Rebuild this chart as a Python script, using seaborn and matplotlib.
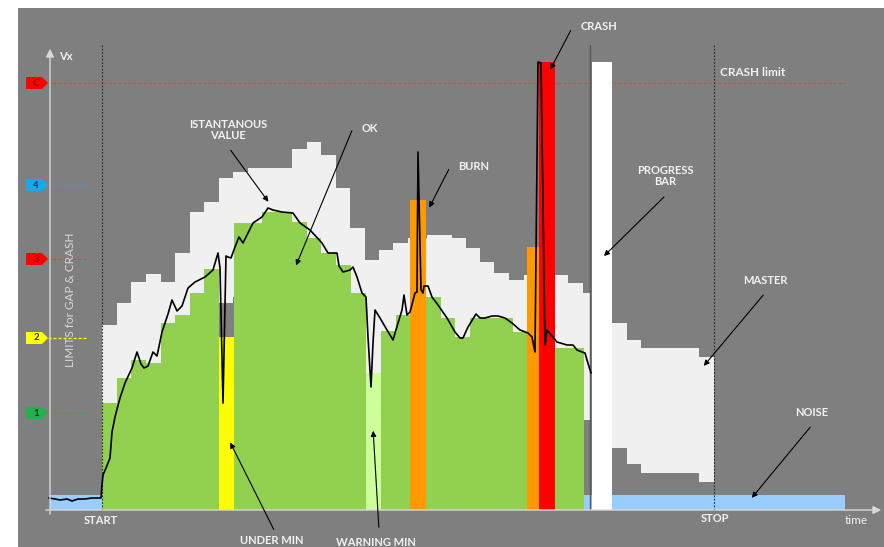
import numpy as np
import matplotlib
matplotlib.use("Agg")
import matplotlib.pyplot as plt
from matplotlib.patches import Polygon
import seaborn as sns

# --- data (x in time units, y in Vx units, both) ---

# master band (light grey): step edges, upper and lower limits
master_edges = [102, 117, 131, 146, 161, 175, 190, 204, 219, 233, 248, 292, 307, 321, 336,
                350, 365, 379, 393, 408, 427, 452, 466, 480, 494, 509, 524, 527, 539, 555,
                568, 583, 591]
master_top = [185, 207, 228, 236, 228, 257, 298, 308, 332, 338, 342, 361, 368, 355, 322,
              282, 250, 260, 267, 272, 275, 272, 262, 248, 237, 230, 235, 235, 235, 235,
              227, 217]
master_low = [60, 82, 103, 111, 103, 132, 173, 183, 207, 213, 217, 236, 243, 230, 197,
              157, 125, 135, 142, 147, 150, 147, 137, 123, 112, 105, 110, 110, 110, 110,
              102, 90]

# master band after the progress bar
master2_edges = [612, 627, 641, 699, 714]
master2_top = [187, 170, 162, 153]
master2_low = [62, 46, 37, 28]

# status bars
seg_edges = [102, 117, 131, 146, 161, 175, 190, 204, 219, 234, 248, 262, 292, 307, 321,
             336, 351, 366, 381, 396, 410, 426, 441, 455, 470, 513, 527, 539, 555, 584]
seg_value = [107, 132, 150, 147, 187, 195, 217, 241, 173, 287, 287, 298, 288, 272, 257,
             245, 217, 137, 179, 195, 310, 213, 192, 173, 192, 178, 263, 448, 162]
seg_status = ["ok", "ok", "ok", "ok", "ok", "ok", "ok", "ok", "under", "ok", "ok", "ok",
              "ok", "ok", "ok", "ok", "ok", "warning", "ok", "ok", "burn", "ok", "ok",
              "ok", "ok", "ok", "burn", "crash", "ok"]
status_colors = {"ok": "#92d050", "under": "#ffff00", "warning": "#ccff99",
                 "burn": "#ff9900", "crash": "#ff0000"}

# noise band
noise_start = [50, 584]
noise_end = [102, 845]
noise_level = 15

# progress bar
progress_x = [592, 612]
progress_top = 448
now_x = 590

# instantaneous value
line_t = [49, 55, 60, 67, 72, 78, 85, 92, 101, 102, 103, 106, 110, 112, 115, 120, 125,
          132, 137, 141, 144, 148, 153, 157, 162, 168, 172, 177, 182, 188, 195, 205, 213,
          218, 220, 223, 226, 228, 231, 235, 239, 243, 248, 253, 262, 268, 273, 282, 293,
          300, 310, 322, 328, 337, 339, 343, 350, 353, 357, 362, 366, 368, 371, 373, 375,
          380, 387, 393, 398, 402, 404, 407, 410, 415, 417, 418, 421, 423, 424, 428, 432,
          438, 447, 455, 460, 463, 468, 476, 480, 485, 492, 498, 505, 512, 520, 528, 532,
          535, 538, 541, 545, 547, 557, 567, 573, 577, 582, 585, 587, 591]
line_vx = [12, 11, 10, 11, 9, 11, 11, 12, 12, 25, 35, 42, 52, 78, 93, 112, 127,
           142, 158, 146, 142, 144, 158, 154, 178, 196, 210, 199, 204, 222, 228, 233, 240,
           257, 242, 107, 254, 253, 252, 263, 273, 267, 277, 287, 293, 302, 300, 298, 297,
           287, 280, 267, 257, 257, 244, 238, 240, 243, 233, 217, 213, 173, 123, 167, 200,
           192, 180, 170, 187, 200, 215, 195, 198, 217, 218, 358, 220, 217, 224, 224, 213,
           205, 192, 178, 172, 172, 183, 196, 192, 192, 194, 194, 192, 187, 180, 177, 173,
           158, 448, 447, 165, 180, 168, 165, 165, 160, 158, 157, 150, 137]

# limit tags on the Vx axis
tag_labels = ["C", "4", "3", "2", "1"]
tag_levels = [427, 325, 251, 172, 97]
tag_colors = ["#ff0000", "#1aa7ec", "#ff0000", "#ffff00", "#22b14c"]
tag_line_colors = ["#e8403c", "#1aa7ec", "#e8403c", "#ffff00", "#22b14c"]
tag_text_colors = ["#8b0000", "#1f3b57", "#8b0000", "#333300", "#0b4016"]
tag_line_end = [845, 88, 88, 88, 88]

start_t = 102
stop_t = 714

# --- drawing ---
sns.set_style("white")
plt.rcParams["font.family"] = ["Lato", "DejaVu Sans"]

fig = plt.figure(figsize=(8.84, 5.47), dpi=100, facecolor="white")
ax = fig.add_axes([18 / 884, 0, 866 / 884, 539 / 547])
ax.set_facecolor("#7f7f7f")
ax.set_xlim(18, 884)
ax.set_ylim(-37, 502)
ax.set_xticks([])
ax.set_yticks([])
for s in ax.spines.values():
    s.set_visible(False)

# limit lines
for lvl, col, end in zip(tag_levels, tag_line_colors, tag_line_end):
    ax.plot([48, end], [lvl, lvl], color=col, lw=0.9, ls=(0, (2.5, 1.5)), zorder=1)

# master band
def band(edges, top, low, **kw):
    edges = np.asarray(edges)
    top = np.asarray(top)
    low = np.asarray(low)
    ax.bar(edges[:-1], top - low, width=np.diff(edges), bottom=low, align="edge",
           linewidth=0, **kw)

band(master_edges, master_top, master_low, color="#f0f0f0", zorder=2)
band(master2_edges, master2_top, master2_low, color="#f0f0f0", zorder=2)

# status bars
seg_edges_a = np.asarray(seg_edges)
ax.bar(seg_edges_a[:-1], seg_value, width=np.diff(seg_edges_a), align="edge", linewidth=0,
       color=[status_colors[s] for s in seg_status], zorder=3)

# noise
for a, b in zip(noise_start, noise_end):
    ax.bar(a, noise_level, width=b - a, align="edge", color="#99ccff", linewidth=0, zorder=3)

# progress bar
ax.bar(progress_x[0], progress_top, width=progress_x[1] - progress_x[0], align="edge",
       color="white", linewidth=0, zorder=4)
ax.plot([now_x, now_x], [0, 465], color="#5a5a5a", lw=1, zorder=4)

# start / stop markers
for t in [start_t, stop_t]:
    ax.plot([t, t], [0, 465], color="#262626", lw=0.8, ls=(0, (1.5, 1.5)), zorder=5)

# instantaneous value
sns.lineplot(x=line_t, y=line_vx, sort=False, estimator=None, color="black", lw=1.2,
             ax=ax, zorder=6)

# axes with arrows
ax.annotate("", xy=(50, 464), xytext=(50, -7),
            arrowprops=dict(arrowstyle="-|>", color="#d9d9d9", lw=1, mutation_scale=12),
            zorder=7)
ax.annotate("", xy=(884, 0), xytext=(43, 0),
            arrowprops=dict(arrowstyle="-|>", color="#d9d9d9", lw=1, mutation_scale=12),
            zorder=7)

# tags
for lab, lvl, col, tcol in zip(tag_labels, tag_levels, tag_colors, tag_text_colors):
    poly = Polygon([(26, lvl - 6), (42, lvl - 6), (48, lvl), (42, lvl + 6),
                    (26, lvl + 6)], closed=True, facecolor=col, edgecolor="none", zorder=8)
    ax.add_patch(poly)
    ax.text(36, lvl, lab, color=tcol, fontsize=7, fontweight="bold",
            ha="center", va="center", zorder=9)

txt = dict(color="#f2f2f2", fontsize=8, fontweight="bold", ha="center", va="center",
           zorder=9)
ax.text(66, 453, "Vx", **txt)
ax.text(70, 210, "LIMITS for GAP & CRASH", rotation=90, color="#d9d9d9", fontsize=8.5,
        ha="center", va="center", zorder=9)
ax.text(101, -10, "START", **txt)
ax.text(715, -8, "STOP", **txt)
ax.text(856, -11, "time", color="#f2f2f2", fontsize=8.5, ha="center", va="center", zorder=9)

arrow = dict(arrowstyle="-|>", color="black", lw=0.8, mutation_scale=8)
notes = [
    ("ISTANTANOUS\nVALUE", (228, 380), (229, 362), (270, 306)),
    ("OK", (370, 382), (353, 382), (295, 242)),
    ("BURN", (474, 344), (450, 343), (428, 300)),
    ("CRASH", (599, 483), (572, 482), (549, 438)),
    ("PROGRESS\nBAR", (665, 334), (666, 315), (602, 252)),
    ("MASTER", (765, 230), (765, 217), (702, 142)),
    ("NOISE", (812, 97), (812, 85), (750, 10)),
    ("UNDER MIN", (272, -31), (275, -22), (229, 70)),
    ("WARNING MIN", (376, -32), (379, -20), (373, 82)),
]
for label, pos, tail, head in notes:
    ax.text(pos[0], pos[1], label, linespacing=1.05, **txt)
    ax.annotate("", xy=head, xytext=tail, arrowprops=arrow, zorder=9)

ax.text(753, 438, "CRASH limit", color="#f2f2f2", fontsize=8.5, fontweight="bold",
        ha="center", va="center", zorder=9)

fig.savefig("out.png", dpi=100)
